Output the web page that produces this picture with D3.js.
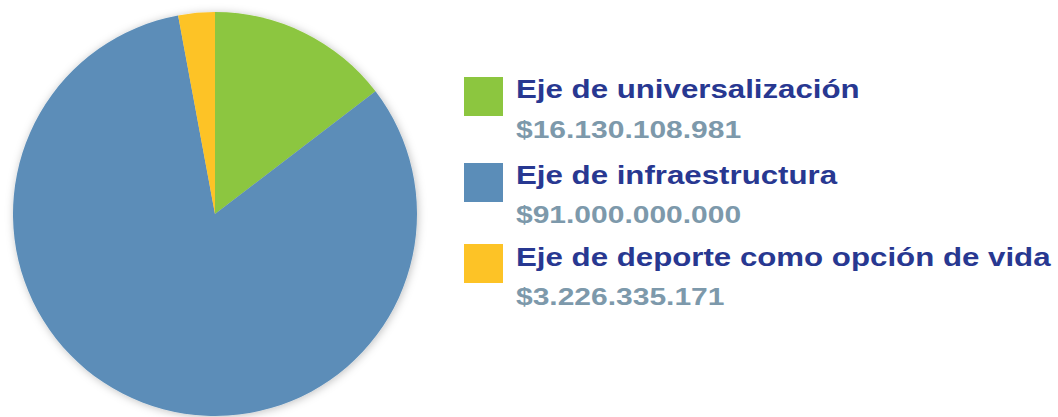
<!DOCTYPE html>
<html>
<head>
<meta charset="utf-8">
<script src="https://cdn.jsdelivr.net/npm/d3@7"></script>
<style>
  html, body { margin: 0; padding: 0; background: #ffffff; }
  svg { display: block; }
</style>
</head>
<body>
<svg id="chart" width="1058" height="417"></svg>
<script>
const categories = ["Eje de universalización", "Eje de infraestructura", "Eje de deporte como opción de vida"];
const values = [16130108981, 91000000000, 3226335171];
const valueLabels = ["$16.130.108.981", "$91.000.000.000", "$3.226.335.171"];
const colors = ["#8cc63f", "#5b8db8", "#fdc326"];

const svg = d3.select("#chart");
const defs = svg.append("defs");
const f = defs.append("filter").attr("id", "shadow")
  .attr("x", "-10%").attr("y", "-10%").attr("width", "120%").attr("height", "120%");
f.append("feDropShadow").attr("dx", 1).attr("dy", 1).attr("stdDeviation", 4)
  .attr("flood-color", "#000").attr("flood-opacity", 0.25);

const cx = 215, cy = 214, r = 202;
const pie = d3.pie().sort(null).value(d => d);
const arc = d3.arc().innerRadius(0).outerRadius(r);

const g = svg.append("g").attr("transform", `translate(${cx},${cy})`).attr("filter", "url(#shadow)");
g.selectAll("path").data(pie(values)).join("path")
  .attr("d", arc)
  .attr("fill", (d, i) => colors[i]);

// legend
const squareY = [77, 163, 244];
const labelY = [98, 184, 266];
const valueY = [138, 223, 305];
const stretch = 1.25;
const leg = svg.append("g");
categories.forEach((c, i) => {
  leg.append("rect").attr("x", 464).attr("y", squareY[i]).attr("width", 39).attr("height", 39).attr("fill", colors[i]);
  leg.append("text").attr("transform", `translate(516,${labelY[i]}) scale(${stretch},1)`)
    .attr("font-family", "Liberation Sans, Arial, sans-serif").attr("font-weight", "bold")
    .attr("font-size", 25).attr("fill", "#283891").text(c);
  leg.append("text").attr("transform", `translate(516,${valueY[i]}) scale(${stretch},1)`)
    .attr("font-family", "Liberation Sans, Arial, sans-serif").attr("font-weight", "bold")
    .attr("font-size", 24).attr("fill", "#7d99ab").text(valueLabels[i]);
});
</script>
</body>
</html>
